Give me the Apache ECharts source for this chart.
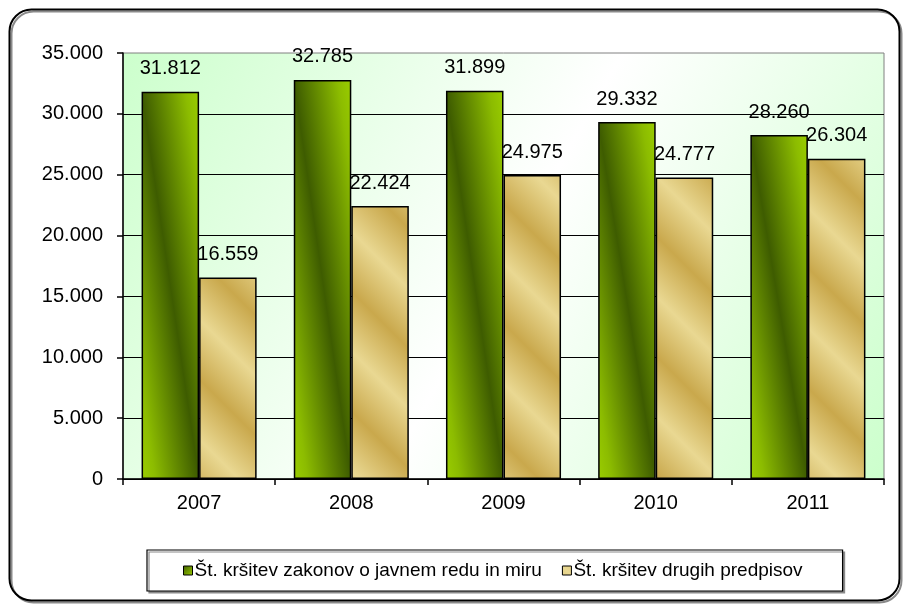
<!DOCTYPE html>
<html>
<head>
<meta charset="utf-8">
<script src="https://cdn.jsdelivr.net/npm/echarts@6/dist/echarts.min.js"></script>
<style>
  html, body { margin: 0; padding: 0; background: #ffffff; }
  #chart { width: 903px; height: 605px; }
</style>
</head>
<body>
<div id="chart"></div>
<script>
const years = ['2007', '2008', '2009', '2010', '2011']
const seriesNames = ['Št. kršitev zakonov o javnem redu in miru', 'Št. kršitev drugih predpisov']
const javniRed = [31812, 32785, 31899, 29332, 28260]
const drugiPredpisi = [16559, 22424, 24975, 24777, 26304]
const yMax = 35000
const yStep = 5000

const font = '"Liberation Sans", Arial, sans-serif'
const plotH = 426
const barW = 57.5

// slovenian thousands separator
const fmt = (v) => String(v).replace(/\B(?=(\d{3})+(?!\d))/g, '.')

const greenStops = [
  { offset: 0, color: '#9acd00' },
  { offset: 0.12, color: '#8cbc00' },
  { offset: 0.5, color: '#3e5c00' },
  { offset: 0.88, color: '#8cbc00' },
  { offset: 1, color: '#9acd00' },
]

// dark band running along the bar's diagonal (top-left -> bottom-right)
const greenFor = (value) => {
  const h = (value / yMax) * plotH
  const d = h * h + barW * barW
  const rx = (h * h) / d
  const ry = (barW * barW) / d
  return new echarts.graphic.LinearGradient(0.5 - rx, 0.5 + ry, 0.5 + rx, 0.5 - ry, greenStops)
}

// diagonal golden stripes for the second series, tiled over the canvas
const makeGoldTile = () => {
  const T = 120
  const c = document.createElement('canvas')
  c.width = T
  c.height = T
  const ctx = c.getContext('2d')
  const g = ctx.createLinearGradient(0, T, T, 0)
  g.addColorStop(0, '#e9d892')
  g.addColorStop(0.25, '#c9a84c')
  g.addColorStop(0.5, '#e9d892')
  g.addColorStop(0.75, '#c9a84c')
  g.addColorStop(1, '#e9d892')
  ctx.fillStyle = g
  ctx.fillRect(0, 0, T, T)
  return c
}
const goldFill = { image: makeGoldTile(), repeat: 'repeat' }

const chart = echarts.init(document.getElementById('chart'))
chart.setOption({
  animation: false,
  textStyle: { fontFamily: font, color: '#000' },
  graphic: [
    {
      type: 'rect',
      shape: { x: 9.5, y: 9.5, width: 890, height: 591, r: 22 },
      style: {
        fill: 'none',
        stroke: '#000',
        lineWidth: 2,
        shadowColor: '#8a8a8a',
        shadowOffsetX: 2,
        shadowOffsetY: 2,
      },
      z: -10,
    },
  ],
  grid: {
    left: 123,
    right: 19,
    top: 53,
    bottom: 126,
    show: true,
    borderColor: '#808080',
    borderWidth: 1,
    backgroundColor: new echarts.graphic.LinearGradient(0, 0, 1, 1, [
      { offset: 0, color: '#ccffcc' },
      { offset: 0.5, color: '#ffffff' },
      { offset: 1, color: '#ccffcc' },
    ]),
  },
  xAxis: {
    type: 'category',
    data: years,
    axisLine: { show: true, lineStyle: { color: '#000', width: 1.5 } },
    axisTick: { show: true, length: 6, lineStyle: { color: '#000', width: 1.5 } },
    axisLabel: { color: '#000', fontSize: 20, margin: 14, fontFamily: font },
  },
  yAxis: {
    type: 'value',
    min: 0,
    max: yMax,
    interval: yStep,
    axisLine: { show: true, lineStyle: { color: '#000', width: 1.5 } },
    axisTick: { show: true, length: 6, lineStyle: { color: '#000', width: 1.5 } },
    splitLine: {
      show: true,
      showMaxLine: false,
      lineStyle: { color: '#000', width: 1.2 },
    },
    axisLabel: {
      color: '#000',
      fontSize: 20,
      margin: 20,
      fontFamily: font,
      formatter: (v) => fmt(v),
    },
  },
  legend: {
    data: [
      {
        name: seriesNames[0],
        itemStyle: {
          color: new echarts.graphic.LinearGradient(0, 0, 1, 1, [
            { offset: 0, color: '#3e5c00' },
            { offset: 1, color: '#9acd00' },
          ]),
        },
      },
      { name: seriesNames[1], itemStyle: { color: goldFill } },
    ],
    left: 147,
    top: 550,
    orient: 'horizontal',
    padding: [11, 40, 11, 36],
    itemGap: 20,
    itemWidth: 9,
    itemHeight: 9,
    icon: 'rect',
    backgroundColor: '#fff',
    borderColor: '#000',
    borderWidth: 1.2,
    shadowColor: '#8a8a8a',
    shadowOffsetX: 2,
    shadowOffsetY: 2,
    itemStyle: { borderColor: '#000', borderWidth: 1 },
    textStyle: { color: '#000', fontSize: 19, fontFamily: font, padding: [0, 0, 0, -3] },
  },
  series: [
    {
      name: seriesNames[0],
      type: 'bar',
      data: javniRed,
      barGap: '0%',
      barCategoryGap: '24.4%',
      itemStyle: {
        color: (p) => greenFor(p.value),
        borderColor: '#000',
        borderWidth: 1.5,
      },
      label: {
        show: true,
        position: 'top',
        distance: 13,
        color: '#000',
        fontSize: 20,
        fontFamily: font,
        formatter: (p) => fmt(p.value),
      },
    },
    {
      name: seriesNames[1],
      type: 'bar',
      data: drugiPredpisi,
      itemStyle: { color: goldFill, borderColor: '#000', borderWidth: 1.5 },
      label: {
        show: true,
        position: 'top',
        distance: 13,
        color: '#000',
        fontSize: 20,
        fontFamily: font,
        formatter: (p) => fmt(p.value),
      },
    },
  ],
})
</script>
</body>
</html>
